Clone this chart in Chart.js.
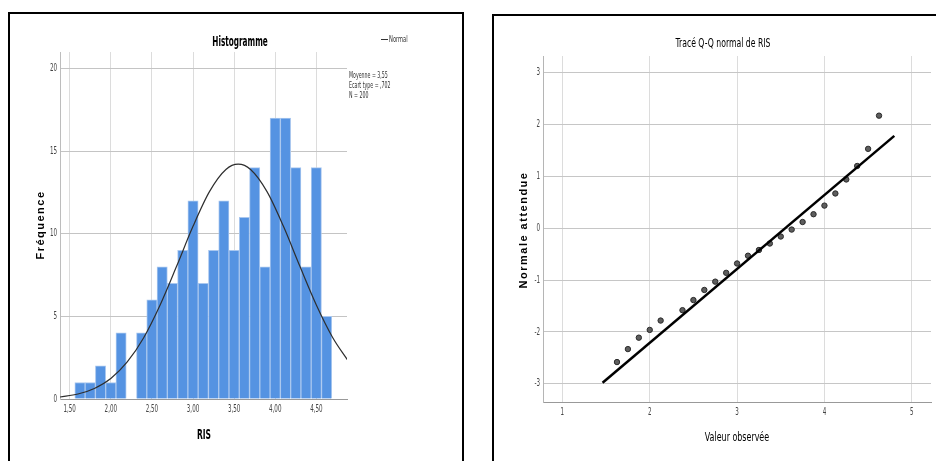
<!DOCTYPE html>
<html>
<head>
<meta charset="utf-8">
<script src="https://cdn.jsdelivr.net/npm/chart.js@4.4.1/dist/chart.umd.min.js"></script>
<style>
  body { margin: 0; background: #fff; width: 936px; height: 461px; overflow: hidden; position: relative; }
  .frame { position: absolute; border: 2px solid #000; box-sizing: border-box; }
  canvas { position: absolute; top: 0; }
</style>
</head>
<body>
<div class="frame" style="left:8px;top:12px;width:456px;height:480px"></div>
<div class="frame" style="left:492px;top:14px;width:480px;height:480px"></div>
<canvas id="hist" width="470" height="461" style="left:0"></canvas>
<canvas id="qq" width="466" height="461" style="left:470px"></canvas>
<script>
// histogramme RIS
var bin_centers = [1.625, 1.75, 1.875, 2.0, 2.125, 2.25, 2.375, 2.5, 2.625, 2.75, 2.875, 3.0, 3.125,
                   3.25, 3.375, 3.5, 3.625, 3.75, 3.875, 4.0, 4.125, 4.25, 4.375, 4.5, 4.625];
var bin_counts = [1, 1, 2, 1, 4, 0, 4, 6, 8, 7, 9, 12, 7, 9, 12, 9, 11, 14, 8, 17, 17, 14, 8, 14, 5];
var curve_x = [1.38, 1.6, 1.8, 2.0, 2.2, 2.4, 2.6, 2.8, 3.0, 3.2, 3.4, 3.55, 3.7, 3.9, 4.1, 4.3, 4.5, 4.7, 4.88];
var curve_y = [0.12, 0.30, 0.64, 1.24, 2.24, 3.71, 5.69, 8.03, 10.45, 12.55, 13.89, 14.21, 13.89, 12.55, 10.45, 8.03, 5.69, 3.71, 2.36];
var hist_x_ticks = [1.5, 2.0, 2.5, 3.0, 3.5, 4.0, 4.5];
var hist_x_labels = ['1,50', '2,00', '2,50', '3,00', '3,50', '4,00', '4,50'];
var hist_y_ticks = [0, 5, 10, 15, 20];
var hist_y_labels = ['0', '5', '10', '15', '20'];
var hist_stats = ['Moyenne = 3,55', 'Ecart type = ,702', 'N = 200'];

// Q-Q normal
var qq_observed = [1.625, 1.75, 1.875, 2.0, 2.125, 2.375, 2.5, 2.625, 2.75, 2.875, 3.0, 3.125,
                   3.25, 3.375, 3.5, 3.625, 3.75, 3.875, 4.0, 4.125, 4.25, 4.375, 4.5, 4.625];
var qq_expected = [-2.58, -2.33, -2.11, -1.96, -1.78, -1.58, -1.385, -1.19, -1.03, -0.86, -0.68, -0.53,
                   -0.42, -0.295, -0.16, -0.026, 0.12, 0.27, 0.436, 0.67, 0.94, 1.20, 1.53, 2.17];
var qq_line_x = [1.46, 4.80];
var qq_line_y = [-2.98, 1.78];
var qq_x_ticks = [1, 2, 3, 4, 5];
var qq_x_labels = ['1', '2', '3', '4', '5'];
var qq_y_ticks = [-3, -2, -1, 0, 1, 2, 3];
var qq_y_labels = ['-3', '-2', '-1', '0', '1', '2', '3'];

var narrow = '"Liberation Sans Narrow", "DejaVu Sans Condensed", "Liberation Sans", sans-serif';
var tick_clr = '#444';

function draw_text(ctx, str, x, y, font, opt) {
  opt = opt || {};
  ctx.save();
  ctx.font = font;
  ctx.fillStyle = opt.color || '#000';
  ctx.textAlign = opt.align || 'center';
  ctx.textBaseline = 'middle';
  if (opt.spacing) ctx.letterSpacing = opt.spacing;
  ctx.translate(x, y);
  if (opt.rotate) ctx.rotate(opt.rotate);
  if (opt.sx) ctx.scale(opt.sx, 1);
  ctx.fillText(str, 0, 0);
  ctx.restore();
}

function fixed_ticks(list) {
  return function(scale) {
    scale.ticks = list.map(function(v) { return {value: v}; });
  };
}

// tick labels are drawn squeezed, at the positions given by the chart's scales
function draw_tick_labels(chart, xt, xl, yt, yl, xgap, ygap) {
  var ctx = chart.ctx;
  var sx = chart.scales.x, sy = chart.scales.y;
  xt.forEach(function(v, i) {
    draw_text(ctx, xl[i], sx.getPixelForValue(v), sy.bottom + xgap, '10px ' + narrow,
              {sx: 0.62, color: tick_clr});
  });
  yt.forEach(function(v, i) {
    draw_text(ctx, yl[i], sx.left - ygap, sy.getPixelForValue(v), '10px ' + narrow,
              {align: 'right', sx: 0.62, color: tick_clr});
  });
}

var hist_texts = {
  id: 'hist_texts',
  afterDraw: function(chart) {
    var ctx = chart.ctx;
    draw_tick_labels(chart, hist_x_ticks, hist_x_labels, hist_y_ticks, hist_y_labels, 10, 3);
    draw_text(ctx, 'Histogramme', 240, 42, 'bold 14px ' + narrow, {sx: 0.58});
    ctx.save();
    ctx.strokeStyle = '#333';
    ctx.lineWidth = 1;
    ctx.beginPath();
    ctx.moveTo(381, 39.5);
    ctx.lineTo(388, 39.5);
    ctx.stroke();
    ctx.restore();
    draw_text(ctx, 'Normal', 389, 39.5, '8px ' + narrow, {align: 'left', sx: 0.72, color: '#333'});
    hist_stats.forEach(function(s, i) {
      draw_text(ctx, s, 349, 75.5 + i * 10, '9px ' + narrow, {align: 'left', sx: 0.58, color: '#333'});
    });
    draw_text(ctx, 'Fréquence', 41, 225, 'bold 11px "Liberation Sans", sans-serif',
              {rotate: -Math.PI / 2, spacing: '1.5px'});
    draw_text(ctx, 'RIS', 204, 435, 'bold 14px ' + narrow, {sx: 0.6});
  }
};

var qq_texts = {
  id: 'qq_texts',
  afterDraw: function(chart) {
    var ctx = chart.ctx;
    draw_tick_labels(chart, qq_x_ticks, qq_x_labels, qq_y_ticks, qq_y_labels, 10, 3);
    draw_text(ctx, 'Tracé Q-Q normal de RIS', 253, 44, '13px ' + narrow, {sx: 0.66});
    draw_text(ctx, 'Normale attendue', 54, 230, 'bold 11px "Liberation Sans", sans-serif',
              {rotate: -Math.PI / 2, spacing: '1.5px'});
    draw_text(ctx, 'Valeur observée', 267, 438, '13px ' + narrow, {sx: 0.68});
  }
};

new Chart(document.getElementById('hist'), {
  type: 'bar',
  data: {
    datasets: [
      {
        type: 'line',
        data: curve_x.map(function(x, i) { return {x: x, y: curve_y[i]}; }),
        borderColor: '#2e2e2e',
        borderWidth: 1.2,
        pointRadius: 0,
        cubicInterpolationMode: 'monotone',
        order: 0
      },
      {
        data: bin_centers.map(function(x, i) { return {x: x, y: bin_counts[i]}; }),
        backgroundColor: '#5593e2',
        borderColor: '#a9c7ef',
        borderWidth: 1,
        barPercentage: 1,
        categoryPercentage: 1,
        order: 1
      }
    ]
  },
  options: {
    responsive: false,
    animation: false,
    layout: {padding: {left: 0, top: 52, right: 123, bottom: 0}},
    plugins: {legend: {display: false}, tooltip: {enabled: false}},
    scales: {
      x: {
        type: 'linear',
        min: 1.382,
        max: 4.873,
        offset: false,
        afterBuildTicks: fixed_ticks(hist_x_ticks),
        afterFit: function(s) { s.height = 62; },
        ticks: {display: false},
        grid: {color: '#dcdcdc', drawTicks: false, offset: false},
        border: {color: '#999', width: 1}
      },
      y: {
        min: 0,
        max: 21,
        afterBuildTicks: fixed_ticks(hist_y_ticks),
        afterFit: function(s) { s.width = 60; },
        ticks: {display: false},
        grid: {color: '#c4c4c4', drawTicks: false},
        border: {color: '#bdbdbd', width: 1}
      }
    }
  },
  plugins: [hist_texts]
});

new Chart(document.getElementById('qq'), {
  type: 'scatter',
  data: {
    datasets: [
      {
        data: qq_observed.map(function(x, i) { return {x: x, y: qq_expected[i]}; }),
        backgroundColor: '#5e5e5e',
        borderColor: '#2a2a2a',
        borderWidth: 1,
        pointRadius: 2.7,
        order: 1
      },
      {
        data: qq_line_x.map(function(x, i) { return {x: x, y: qq_line_y[i]}; }),
        showLine: true,
        borderColor: '#000',
        borderWidth: 2.5,
        pointRadius: 0,
        order: 0
      }
    ]
  },
  options: {
    responsive: false,
    animation: false,
    layout: {padding: {left: 0, top: 56, right: 5, bottom: 0}},
    plugins: {legend: {display: false}, tooltip: {enabled: false}},
    scales: {
      x: {
        type: 'linear',
        min: 0.778,
        max: 5.22,
        afterBuildTicks: fixed_ticks(qq_x_ticks),
        afterFit: function(s) { s.height = 59; },
        ticks: {display: false},
        grid: {color: '#dcdcdc', drawTicks: false},
        border: {color: '#999', width: 1}
      },
      y: {
        min: -3.35,
        max: 3.32,
        afterBuildTicks: fixed_ticks(qq_y_ticks),
        afterFit: function(s) { s.width = 73; },
        ticks: {display: false},
        grid: {color: '#c6c6c6', drawTicks: false},
        border: {color: '#b5b5b5', width: 1}
      }
    }
  },
  plugins: [qq_texts]
});
</script>
</body>
</html>
